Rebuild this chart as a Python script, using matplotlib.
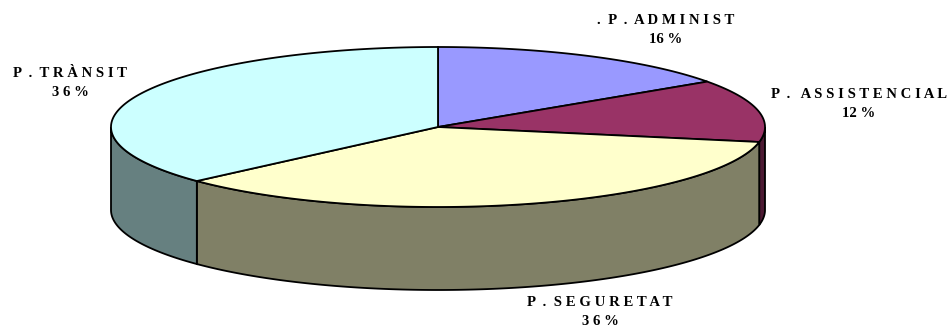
import numpy as np
import matplotlib
matplotlib.use("Agg")
import matplotlib.pyplot as plt
from matplotlib.patches import Polygon

categories = [".  P  .  A D M I N I S T", "P  .   A S S I S T E N C I A L", "P  .  S E G U R E T A T", "P  .  T R À N S I T"]
shares = [15.4, 12.6, 35.2, 36.8]
pct_labels = ["16 %", "12 %", "3 6 %", "3 6 %"]
top_colors = ["#9999FF", "#993366", "#FFFFCC", "#CCFFFF"]
side_colors = ["#6B6BB3", "#4D1A33", "#808066", "#668080"]

W, H = 951, 325
cx, cy, rx, ry, depth = 438, 127, 327, 80, 83

fig = plt.figure(figsize=(W / 100, H / 100), dpi=100, facecolor="white")
ax = fig.add_axes([0, 0, 1, 1])
ax.set_xlim(0, W)
ax.set_ylim(H, 0)
ax.axis("off")


def pt(t, dy=0):
    # t: clockwise angle from the top, radians
    return np.column_stack([cx + rx * np.sin(t), cy - ry * np.cos(t) + dy])


edges = np.cumsum([0] + shares) / sum(shares) * 2 * np.pi
lw = 1.3

# side walls (visible front half: t between pi/2 and 3pi/2)
for i in range(4):
    a, b = max(edges[i], np.pi / 2), min(edges[i + 1], 3 * np.pi / 2)
    if a >= b:
        continue
    t = np.linspace(a, b, 200)
    poly = np.vstack([pt(t), pt(t[::-1], depth)])
    ax.add_patch(Polygon(poly, closed=True, fc=side_colors[i], ec="black", lw=lw, zorder=2))

# top faces
for i in range(4):
    t = np.linspace(edges[i], edges[i + 1], 300)
    poly = np.vstack([[[cx, cy]], pt(t)])
    ax.add_patch(Polygon(poly, closed=True, fc=top_colors[i], ec="black", lw=lw, zorder=3))

label_xy = [(666, 30), (859, 104), (600, 312), (70, 83)]
for name, pct, (x, y) in zip(categories, pct_labels, label_xy):
    ax.text(x, y, name + "\n" + pct, ha="center", va="center", multialignment="center",
            family="Liberation Serif", fontweight="bold", fontsize=10.6, linespacing=1.62,
            color="black", zorder=5, clip_on=True)

fig.savefig("out.png", dpi=100)
